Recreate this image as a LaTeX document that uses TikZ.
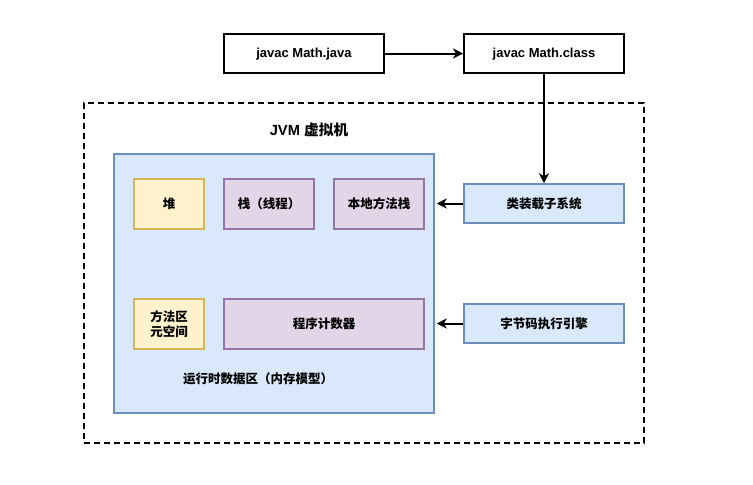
\documentclass[tikz,border=0pt]{standalone}
\usepackage{fontspec}
\setmainfont{Liberation Sans}
\newfontfamily\cjk{Noto Sans CJK SC}
\usetikzlibrary{positioning,arrows.meta}
\definecolor{blueFill}{HTML}{DAE8FC}
\definecolor{blueLine}{HTML}{6C8EBF}
\definecolor{yellowFill}{HTML}{FFF2CC}
\definecolor{yellowLine}{HTML}{D6B656}
\definecolor{purpleFill}{HTML}{E1D5E7}
\definecolor{purpleLine}{HTML}{9673A6}
\tikzset{plain/.style = {rectangle, draw=black, line width=2pt, minimum width=160pt,
    minimum height=39pt, text depth=2pt, font=\bfseries\fontsize{13}{15}\selectfont},
  cjktext/.style = {font=\cjk\bfseries\fontsize{12.5}{15}\selectfont},
  blue/.style = {rectangle, draw=blueLine, fill=blueFill, line width=1.5pt, cjktext},
  heapbox/.style = {rectangle, draw=yellowLine, fill=yellowFill, line width=1.5pt,
    minimum width=70pt, minimum height=50pt, align=center, cjktext},
  stackbox/.style = {rectangle, draw=purpleLine, fill=purpleFill, line width=1.5pt,
    minimum height=50pt, cjktext},
  flow/.style = {-{Stealth[length=10pt,width=10pt,inset=3pt]}, line width=2pt}}

\begin{document}
\begin{tikzpicture}[x=1pt, y=-1pt]
  \useasboundingbox (0,0) rectangle (753,485);

  \node[plain] (java) at (304,53.5) {javac Math.java};
  \node[plain] (class) [right = 78pt of java] {javac Math.class};

  \node[draw=black, line width=2pt, dash pattern=on 6pt off 4pt,
    minimum width=560pt, minimum height=340pt] (jvm) at (364,273) {};
  \node[font=\bfseries\fontsize{14.7}{17}\selectfont] (jvmLabel) at (309,130)
    {JVM {\cjk 虚拟机}};

  \node[blue, minimum width=320pt, minimum height=259pt] (rtda) at (274,283.5) {};
  \node[cjktext] (rtdaLabel) at (258,379) {运行时数据区（内存模型）};

  \node[heapbox] (heap) at (169,204) {堆};
  \node[stackbox, minimum width=90pt] (stack) [right = 18.5pt of heap] {栈（线程）};
  \node[stackbox, minimum width=90pt] (native) [right = 18.5pt of stack] {本地方法栈};
  \node[heapbox, font=\cjk\bfseries\fontsize{12.5}{15.5}\selectfont] (meta) at (169,324) {方法区\\元空间};
  \node[stackbox, minimum width=200pt] (pc) [right = 18.5pt of meta] {程序计数器};

  \node[blue, minimum width=160pt, minimum height=39pt] (loader) at (544,203.5) {类装载子系统};
  \node[blue, minimum width=160pt, minimum height=39pt] (engine) at (544,323.5) {字节码执行引擎};

  \draw[flow] (java) -- (class);
  \draw[flow] (class) -- (loader);
  \draw[flow, shorten >=2pt] (loader) -- (rtda.east |- loader);
  \draw[flow, shorten >=2pt] (engine) -- (rtda.east |- engine);

\end{tikzpicture}
\end{document}
